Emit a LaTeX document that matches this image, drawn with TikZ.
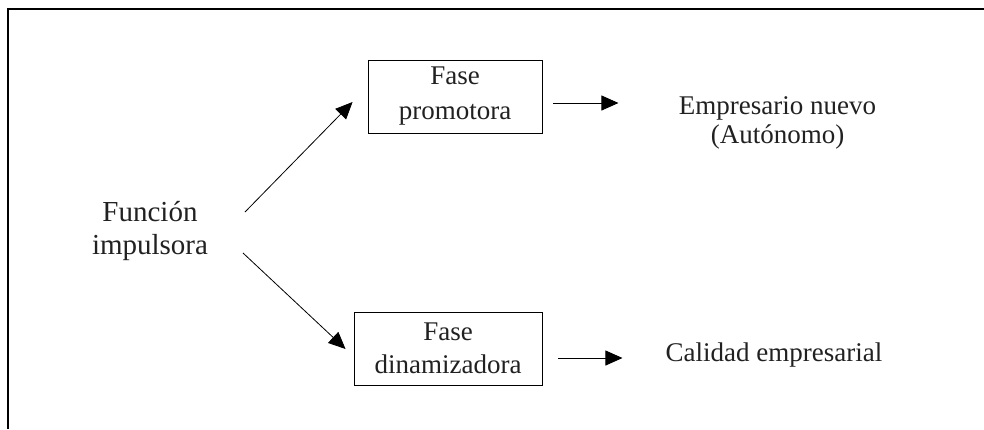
\documentclass[tikz,border=0pt]{standalone}
\usepackage{fontspec}
\setmainfont{Liberation Serif}
\usetikzlibrary{arrows.meta}

\begin{document}
\begin{tikzpicture}[x=1pt,y=-1pt,
    fase/.style={draw,line width=0.9pt,align=center,minimum height=73pt,inner sep=0pt},
    texto/.style={align=center,text=black!87},
    flecha/.style={-{Triangle[length=17pt,width=15pt]},line width=0.8pt}]
    \useasboundingbox (0,0) rectangle (984,429);
    \draw[line width=1.2pt] (984,9) -- (8,9) -- (8,429);

    \node[texto,font=\fontsize{29}{33}\selectfont] (fi) at (150,231) {Función\\impulsora};
    \node[fase,texto,minimum width=174pt,font=\fontsize{27}{35}\selectfont] (fp) at (455,96.5) {Fase\\promotora};
    \node[fase,texto,minimum width=188pt,font=\fontsize{27}{33}\selectfont] (fd) at (448,348.5) {Fase\\dinamizadora};
    \node[texto,font=\fontsize{27}{29}\selectfont] (en) at (777.5,123) {Empresario nuevo\\(Autónomo)};
    \node[texto,font=\fontsize{27}{32}\selectfont] (ce) at (774,355) {Calidad empresarial};

    \draw[flecha] ([shift={(95,-19)}]fi.center) -- ([shift={(-15,5.5)}]fp.west);
    \draw[flecha] ([shift={(93,22)}]fi.center) -- ([shift={(-8,0.5)}]fd.west);
    \draw[flecha] ([shift={(11,6.5)}]fp.east) -- ++(65,0);
    \draw[flecha] ([shift={(16,9.5)}]fd.east) -- ++(64,0);
\end{tikzpicture}
\end{document}
